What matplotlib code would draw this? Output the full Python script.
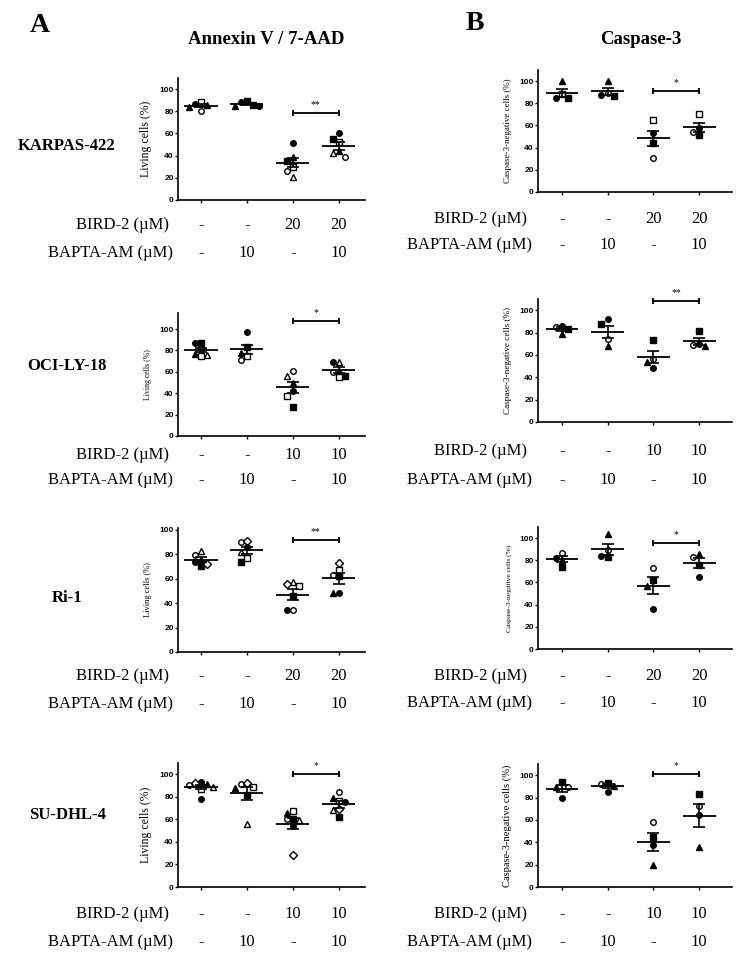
import matplotlib
matplotlib.use('Agg')
import matplotlib.pyplot as plt
import matplotlib.transforms as mtrans
import numpy as np

W, H = 741, 960
SERIF = ['Liberation Serif', 'DejaVu Serif']
SANS = ['Liberation Sans', 'DejaVu Sans']

# ---------------- data ----------------
cell_lines = ['KARPAS-422', 'OCI-LY-18', 'Ri-1', 'SU-DHL-4']
bird2_labels = [['-', '-', '20', '20'], ['-', '-', '10', '10'],
                ['-', '-', '20', '20'], ['-', '-', '10', '10']]
bapta_labels = ['-', '10', '-', '10']
yticks = [0, 20, 40, 60, 80, 100]

# Annexin V / 7-AAD : living cells (%)
av_karpas = [[88, 87, 80, 86, 84], [89, 88, 85, 85, 86],
             [51, 39, 35, 30, 21, 26], [60, 55, 52, 44, 42, 39]]
av_oci = [[87, 87, 77, 75, 81, 76], [97.5, 83, 78, 71, 75],
          [61, 56, 42, 27, 37, 50], [69, 69, 61, 56, 55, 60]]
av_ri1 = [[83, 79, 74, 70, 75, 72], [90, 91, 82, 86, 74, 77],
          [57, 56, 54, 34, 34, 46], [73, 67, 63, 62, 48, 48]]
av_sud = [[93, 91.5, 92, 90.5, 86.5, 78, 89], [91, 92, 89, 82, 88, 56],
          [67, 66, 60, 60, 59, 54, 28], [84, 79, 76, 75, 69, 68, 62]]

# Caspase-3 : caspase-3-negative cells (%)
cs_karpas = [[100, 88, 85, 85], [100, 89.5, 86.5, 87.5],
             [65, 53, 44, 31], [70, 58, 51, 54]]
cs_oci = [[85, 86, 83, 79], [92, 88, 74, 68],
          [73, 56, 54, 48], [81, 70, 69, 68]]
cs_ri1 = [[87, 82, 80, 74], [104, 89, 83, 84],
          [73, 62, 57, 36], [83, 86, 76, 65]]
cs_sud = [[89, 89, 94, 80], [93, 92, 85, 90],
          [58, 45, 38, 20], [83, 72, 64, 36]]

# significance (label, bar height)
av_sig = [('**', 78.7), ('*', 107.5), ('**', 91.8), ('*', 100.6)]
cs_sig = [('*', 91.4), ('**', 108.6), ('*', 96), ('*', 101.5)]

# ---------------- styles ----------------
av_markers = [
    [['so', 'o', 'oo', '^', '^'], ['s', 'o', '^', 'o', 's'],
     ['o', '^', 's', 'so', '^o', 'oo'], ['o', 's', 'so', '^', '^o', 'oo']],
    [['o', 's', '^', 'so', 'oo', '^o'], ['o', 's', '^', 'oo', 'so'],
     ['oo', '^o', 'o', 's', 'so', '^'], ['o', '^o', '^', 's', 'so', 'oo']],
    [['^o', 'oo', 'o', 's', '^', 'Do'], ['oo', 'Do', '^o', 'o', 's', 'so'],
     ['^o', 'Do', 'so', 'o', 'oo', 's'], ['Do', 'so', 'oo', 's', 'o', '^']],
    [['o', '^', 'Do', 'oo', 'so', 'o', '^o'], ['oo', 'Do', 'so', 's', '^', '^o'],
     ['so', '^', 's', 'oo', '^o', 'o', 'Do'], ['oo', '^', 'so', 'o', 'Do', '^o', 's']],
]
cs_markers = [
    [['^', 'so', 'o', 's'], ['^', 'oo', 's', 'o'], ['so', 'o', 's', 'oo'], ['so', 'o', 's', 'oo']],
    [['oo', 'o', 's', '^'], ['o', 's', 'oo', '^'], ['s', 'oo', '^', 'o'], ['s', 'o', 'oo', '^']],
    [['oo', 'o', '^', 's'], ['^', 'oo', 's', 'o'], ['oo', 's', '^', 'o'], ['oo', '^', 's', 'o']],
    [['oo', '^', 's', 'o'], ['s', 'oo', 'o', '^'], ['oo', 's', 'o', '^'], ['s', 'oo', 'o', '^']],
]

# layout (pixels)
left_x, left_w = 178, 187
right_x, right_w = 538, 194
left_rows = [(200, 78), (436, 313), (652, 528), (887, 763)]
right_rows = [(192, 70), (422, 299), (649, 527), (887, 764)]
left_ylim = [110, 115, 101.5, 110]
right_ylim = [110, 110, 110, 110]
left_xlim = (0.5, 4.57)
right_xlim = (0.475, 4.72)
left_ylab_size = [8.5, 5.6, 6.0, 8.5]
right_ylab_size = [6.5, 6.6, 5.4, 7.6]
left_bird_y = [225, 455, 676, 914]
left_bapta_y = [253, 480, 704, 942]
right_bird_y = [219, 451, 676, 914]
right_bapta_y = [245, 480, 703, 942]
cell_y = [146, 366, 598, 815]

fig = plt.figure(figsize=(W / 100, H / 100), dpi=100)
fig.patch.set_facecolor('white')


def ft(x, y, s, **kw):
    kw.setdefault('va', 'center')
    return fig.text(x / W, 1 - y / H, s, **kw)


def swarm(vals, ppu_y, d=6.2):
    placed, offs = [], []
    order = np.argsort(vals)[::-1]
    res = [0.0] * len(vals)
    for i in order:
        y = vals[i] * ppu_y
        chosen = 0
        for c in [0, -d, d, -2 * d, 2 * d, -3 * d, 3 * d]:
            if all((c - px) ** 2 + (y - py) ** 2 >= (d * 0.95) ** 2 for px, py in placed):
                chosen = c
                break
        placed.append((chosen, y))
        res[i] = chosen
    return res


def draw_panel(ax, data, markers, sig, ylabel, ylab_size, ppu_x, ppu_y):
    for gi, (vals, mks) in enumerate(zip(data, markers)):
        g = gi + 1
        offs = swarm(vals, ppu_y)
        for v, m, o in zip(vals, mks, offs):
            shape = m[0]
            hollow = m.endswith('o') and len(m) == 2
            ms = 4.0 if shape == 'o' else (3.8 if shape == 's' else 4.2)
            if shape == 'D':
                ms = 3.6
            ax.plot(g + o / ppu_x, v, marker=shape, ls='none', ms=ms,
                    mfc='white' if hollow else 'black', mec='black', mew=1.0,
                    clip_on=False, zorder=3)
        mean = np.mean(vals)
        sem = np.std(vals, ddof=1) / np.sqrt(len(vals))
        ax.hlines(mean, g - 0.36, g + 0.36, color='black', lw=1.3, zorder=4)
        ax.errorbar(g, mean, yerr=sem, fmt='none', ecolor='black',
                    elinewidth=1.2, capsize=4.3, capthick=1.2, zorder=4)
    star, yb = sig
    ax.plot([3, 4], [yb, yb], color='black', lw=1.3, marker='|', ms=5,
            mew=1.3, clip_on=False)
    ax.annotate(star, (3.5, yb), xytext=(0, 2.5), textcoords='offset points',
                ha='center', va='bottom', fontsize=7, family=SERIF,
                annotation_clip=False)
    ax.set_yticks(yticks)
    ax.set_xticks([1, 2, 3, 4])
    ax.set_xticklabels([])
    for s in ['top', 'right']:
        ax.spines[s].set_visible(False)
    for s in ['left', 'bottom']:
        ax.spines[s].set_linewidth(1.2)
    ax.tick_params(axis='y', length=2.5, width=1.0, pad=0.6, labelsize=6)
    ax.tick_params(axis='x', length=2.5, width=1.0)
    for lab in ax.get_yticklabels():
        lab.set_fontweight('bold')
        lab.set_family(SANS)
    ax.set_ylabel(ylabel, fontsize=ylab_size, family=SERIF, labelpad=2)
    ax.patch.set_alpha(0)


av_all = [av_karpas, av_oci, av_ri1, av_sud]
cs_all = [cs_karpas, cs_oci, cs_ri1, cs_sud]

for i in range(4):
    # left (Annexin V)
    yb, yt = left_rows[i]
    axl = fig.add_axes([left_x / W, 1 - yb / H, left_w / W, (yb - yt) / H])
    axl.set_xlim(*left_xlim)
    axl.set_ylim(0, left_ylim[i])
    ppu_x = left_w / (left_xlim[1] - left_xlim[0])
    ppu_y = (yb - yt) / left_ylim[i]
    draw_panel(axl, av_all[i], av_markers[i], av_sig[i], 'Living cells (%)',
               left_ylab_size[i], ppu_x, ppu_y)
    axl.yaxis.set_label_coords(-26 / left_w, 0.5)

    # right (Caspase-3)
    yb, yt = right_rows[i]
    axr = fig.add_axes([right_x / W, 1 - yb / H, right_w / W, (yb - yt) / H])
    axr.set_xlim(*right_xlim)
    axr.set_ylim(0, right_ylim[i])
    ppu_x = right_w / (right_xlim[1] - right_xlim[0])
    ppu_y = (yb - yt) / right_ylim[i]
    draw_panel(axr, cs_all[i], cs_markers[i], cs_sig[i],
               'Caspase-3-negative cells (%)', right_ylab_size[i], ppu_x, ppu_y)
    axr.yaxis.set_label_coords(-26 / right_w, 0.5)

    # treatment rows
    for ax, by, py, bx, px in [(axl, left_bird_y[i], left_bapta_y[i], 169, 173),
                               (axr, right_bird_y[i], right_bapta_y[i], 527, 532)]:
        tr = mtrans.blended_transform_factory(ax.transData, fig.transFigure)
        ft(bx, by, 'BIRD-2 (\u00b5M)', ha='right', fontsize=12, family=SERIF)
        ft(px, py, 'BAPTA-AM (\u00b5M)', ha='right', fontsize=12, family=SERIF)
        for g, (b, p) in enumerate(zip(bird2_labels[i], bapta_labels)):
            fig.text(g + 1, 1 - by / H, b, transform=tr, ha='center', va='center',
                     fontsize=12, family=SERIF)
            fig.text(g + 1, 1 - py / H, p, transform=tr, ha='center', va='center',
                     fontsize=12, family=SERIF)

    ft(67, cell_y[i], cell_lines[i], ha='center', fontsize=12, fontweight='bold',
       family=SERIF)

ft(40, 25, 'A', ha='center', fontsize=20, fontweight='bold', family=SERIF)
ft(475, 23, 'B', ha='center', fontsize=20, fontweight='bold', family=SERIF)
ft(266, 40, 'Annexin V / 7-AAD', ha='center', fontsize=13.5, fontweight='bold',
   family=SERIF)
ft(641, 40, 'Caspase-3', ha='center', fontsize=13.5, fontweight='bold', family=SERIF)

fig.savefig('out.png', dpi=100)
